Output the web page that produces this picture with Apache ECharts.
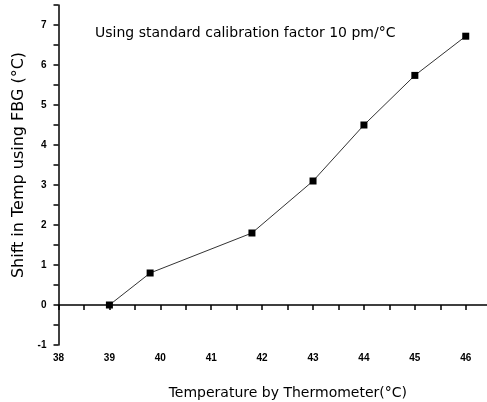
<!DOCTYPE html>
<html><head><meta charset="utf-8">
<script src="https://cdn.jsdelivr.net/npm/echarts@6/dist/echarts.min.js"></script>
<style>html,body{margin:0;padding:0;background:#fff}#c{width:487px;height:402px}</style>
</head><body><div id="c"></div>
<script>
const thermometerTemp = [39, 39.8, 41.8, 43, 44, 45, 46];
const fbgShift = [0, 0.8, 1.8, 3.1, 4.5, 5.74, 6.72];
const annotation = 'Using standard calibration factor 10 pm/\u00B0C';
const xName = 'Temperature by Thermometer(\u00B0C)';
const yName = 'Shift in Temp using FBG (\u00B0C)';

const chart = echarts.init(document.getElementById('c'));
const font = 'DejaVu Sans, Verdana, sans-serif';
const tickFont = 'Liberation Sans, Arial, sans-serif';
chart.setOption({
  animation: false,
  backgroundColor: '#fff',
  title: {
    text: annotation, left: 90, top: 21,
    textStyle: {fontFamily: font, fontSize: 14, fontWeight: 'normal', color: '#000'}
  },
  grid: {left: 58.5, right: -4.2, top: 5, bottom: 57, outerBoundsMode: 'none', containLabel: false},
  xAxis: {
    type: 'value', min: 38, max: 46.5, interval: 0.5,
    name: xName, nameLocation: 'middle', nameGap: 41,
    nameTextStyle: {fontFamily: font, fontSize: 14, color: '#000', padding: [0, 0, 0, 26]},
    axisLine: {lineStyle: {color: '#000', width: 1.5}},
    axisTick: {length: 5, lineStyle: {color: '#000', width: 1.5}},
    axisLabel: {fontFamily: tickFont, fontSize: 10, fontWeight: 'bold', color: '#000', margin: 8,
      formatter: v => Number.isInteger(v) && v < 46.5 ? String(v) : ''},
    splitLine: {show: false}
  },
  yAxis: {
    type: 'value', min: -1, max: 7.5, interval: 0.5,
    name: yName, nameLocation: 'middle', nameGap: 26,
    nameTextStyle: {fontFamily: font, fontSize: 16, color: '#000', padding: [0, 0, 0, 20]},
    axisLine: {lineStyle: {color: '#000', width: 1.5}},
    axisTick: {length: 5, lineStyle: {color: '#000', width: 1.5}},
    axisLabel: {fontFamily: tickFont, fontSize: 10, fontWeight: 'bold', color: '#000', margin: 12,
      formatter: v => Number.isInteger(v) ? String(v) : ''},
    splitLine: {show: false}
  },
  series: [{
    type: 'line',
    data: thermometerTemp.map((x, i) => [x, fbgShift[i]]),
    symbol: 'rect', symbolSize: 7,
    itemStyle: {color: '#000'},
    lineStyle: {color: '#333', width: 1}
  }]
});
</script></body></html>
